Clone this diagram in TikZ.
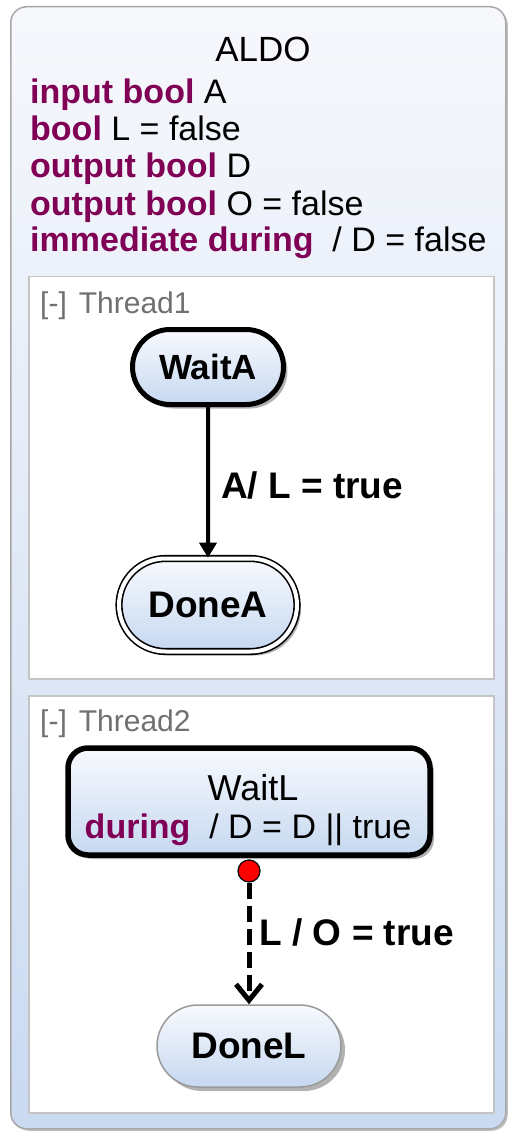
\documentclass[tikz,border=0pt]{standalone}
\usepackage{fontspec}
\setmainfont{Liberation Sans}
\usetikzlibrary{shapes.misc,arrows.meta,shadows}
\definecolor{kw}{HTML}{7F0055}
\definecolor{sttop}{HTML}{F8FAFE}
\definecolor{stbot}{HTML}{C6D8F0}
\definecolor{roottop}{HTML}{F7F8FC}
\definecolor{rootbot}{HTML}{CADAF1}
\definecolor{rootline}{HTML}{A8A8A8}
\definecolor{thline}{HTML}{C4C4C4}
\definecolor{thtext}{HTML}{707070}
\definecolor{doneline}{HTML}{9A9A9A}
\newcommand{\fs}[1]{\fontsize{#1}{#1}\selectfont}
\newcommand{\kwd}[1]{\textcolor{kw}{\textbf{#1}}}
\begin{document}
\begin{tikzpicture}[x=1pt,y=-1pt,
  shadowed/.style={drop shadow={shadow xshift=4pt,shadow yshift=-4pt,opacity=0.3,fill=black}},
  statebox/.style={top color=sttop,bottom color=stbot,shadowed,inner sep=0pt},
  decl/.style={anchor=base west,inner sep=0pt,font=\fs{34}},
  threadbox/.style={draw=thline,fill=white,line width=1.5pt,minimum width=465pt,anchor=north west,inner sep=0pt},
  threadlbl/.style={anchor=base west,inner sep=0pt,font=\fs{30},text=thtext},
  translbl/.style={anchor=west,inner sep=0pt,font=\fs{37}\bfseries},
  thickstate/.style={draw=black,line width=5pt}]
\useasboundingbox (0,0) rectangle (508,1131);
% root state
\node[draw=rootline,line width=1.5pt,rounded corners=16pt,top color=roottop,bottom color=rootbot,
  minimum width=495pt,minimum height=1122pt,anchor=north west,inner sep=0pt,
  drop shadow={shadow xshift=2pt,shadow yshift=-2pt,opacity=0.25,fill=black}] (root) at (10,6) {};
\node[anchor=base,inner sep=0pt,font=\fs{35}] (title) at (263,62) {ALDO};
\node[decl] (d1) at (30,104) {\kwd{input bool} A};
\node[decl] (d2) at (30,141) {\kwd{bool} L = false};
\node[decl] (d3) at (30,178) {\kwd{output bool} D};
\node[decl] (d4) at (30,216) {\kwd{output bool} O = false};
\node[decl] (d5) at (30,252) {\kwd{immediate during}\ \ / D = false};
% thread 1
\node[threadbox,minimum height=402pt] (thread1) at (28,276) {};
\node[threadlbl] (t1lbl) at (40,313) {[-]\hspace{12pt}Thread1};
\node[rounded rectangle,thickstate,statebox,minimum width=151pt,minimum height=75pt,font=\fs{35}\bfseries] (waitA) at (208,367) {WaitA};
\node[rounded rectangle,draw=black,line width=1.6pt,double=white,double distance=4pt,statebox,minimum width=178pt,minimum height=93pt,font=\fs{37}\bfseries] (doneA) at (208,605) {DoneA};
\draw[line width=4pt,-{Triangle[length=15pt,width=17pt]}] (waitA) -- node[translbl,pos=0.52,xshift=11pt] (lblA) {A/ L = true} (doneA);
% thread 2
\node[threadbox,minimum height=417pt] (thread2) at (28,695) {};
\node[threadlbl] (t2lbl) at (40,731) {[-]\hspace{12pt}Thread2};
\node[rectangle,rounded corners=20pt,thickstate,line width=5.5pt,statebox,minimum width=362pt,minimum height=107pt] (waitL) at (249,801.5) {};
\node[anchor=base,inner sep=0pt,font=\fs{36}] (wlname) at (253,800) {WaitL};
\node[anchor=base,inner sep=0pt,font=\fs{34}] (wlact) at (248,838) {\kwd{during}\ \ / D = D {||} true};
\node[rounded rectangle,draw=doneline,line width=1.5pt,statebox,minimum width=184pt,minimum height=82pt,font=\fs{37}\bfseries] (doneL) at (249,1046) {DoneL};
\node[circle,fill=red,draw=black,line width=1.2pt,minimum size=22pt,inner sep=0pt] (dot) at (249,871) {};
\draw[line width=5pt,dash pattern=on 16pt off 7pt,-{Straight Barb[length=16pt,width=26pt]}] (dot) -- node[translbl,pos=0.41,xshift=8pt] (lblL) {L / O = true} (doneL);
\end{tikzpicture}
\end{document}
